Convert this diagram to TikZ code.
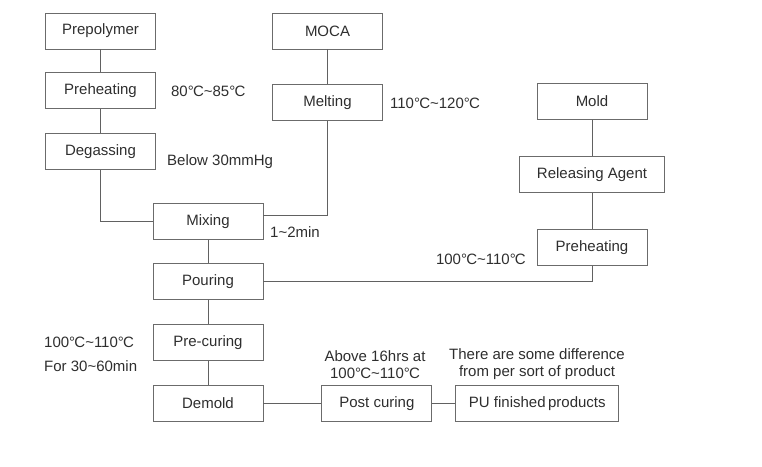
\documentclass[tikz,border=0pt]{standalone}
\usepackage{fontspec}
\setmainfont{Liberation Sans}
\usepackage{tikz}
\usetikzlibrary{positioning}

\newcommand{\degC}{°\kern-0.8pt C}
\newcommand{\tild}{\textasciitilde}

\begin{document}
\begin{tikzpicture}[
    x=1pt, y=-1pt,
    node distance=24pt and 24pt,
    every node/.style={font=\fontsize{15}{17}\selectfont, text=black!82},
    stage/.style={draw=black!58, line width=0.9pt, minimum width=110pt, minimum height=36pt, inner sep=2pt},
    note/.style={inner sep=0pt, align=center},
    link/.style={draw=black!62, line width=0.9pt}]

\useasboundingbox (0,0) rectangle (762,466);

% Nodes
\node[stage] (prepoly) at (100.5,31) {Prepolymer};
\node[stage, below=23pt of prepoly] (preheatL) {Preheating};
\node[stage, below=24pt of preheatL] (degas) {Degassing};
\node[stage] (moca) at (327.5,31) {MOCA};
\node[stage, below=35pt of moca] (melt) {Melting};
\node[stage] (mixing) at (208,221.5) {Mixing};
\node[stage, below=23pt of mixing] (pouring) {Pouring};
\node[stage, below=24pt of pouring] (precure) {Pre-curing};
\node[stage, below=24pt of precure] (demold) {Demold};
\node[stage, right=58pt of demold] (postcure) {Post curing};
\node[stage, right=23pt of postcure, minimum width=163pt] (pu) {PU finished\,products};
\node[stage] (mold) at (592,101.5) {Mold};
\node[stage, below=36.5pt of mold, minimum width=145pt] (release) {Releasing Agent};
\node[stage, below=35.5pt of release] (preheatR) {Preheating};

% Notes
\node[note, right=15pt of preheatL] (tPreheatL) {80\degC\tild85\degC};
\node[note, anchor=west] (tDegas) at (167,162) {Below 30mmHg};
\node[note, right=7pt of melt] (tMelt) {110\degC\tild120\degC};
\node[note, anchor=west] (tMixing) at (270,232) {1\tild2min};
\node[note, anchor=east] (tPreheatR) at (526,259) {100\degC\tild110\degC};
\node[note, anchor=west] (tPrecureA) at (44,342) {100\degC\tild110\degC};
\node[note, anchor=west] (tPrecureB) at (44,366) {For 30\tild60min};
\node[note] (tPostcure) at (375,364.5) {Above 16hrs at\\100\degC\tild110\degC};
\node[note] (tPu) at (537,364.5) {There are some difference\\from per sort of product};

% Lines
\draw[link] (prepoly) -- (preheatL);
\draw[link] (preheatL) -- (degas);
\draw[link] (degas) |- (mixing);
\draw[link] (moca) -- (melt);
\draw[link] (melt) |- ([yshift=6.5pt]mixing.east);
\draw[link] (mixing) -- (pouring);
\draw[link] (mold) -- (release);
\draw[link] (release) -- (preheatR);
\draw[link] (preheatR) |- (pouring);
\draw[link] (pouring) -- (precure);
\draw[link] (precure) -- (demold);
\draw[link] (demold) -- (postcure);
\draw[link] (postcure) -- (pu);
\end{tikzpicture}
\end{document}
